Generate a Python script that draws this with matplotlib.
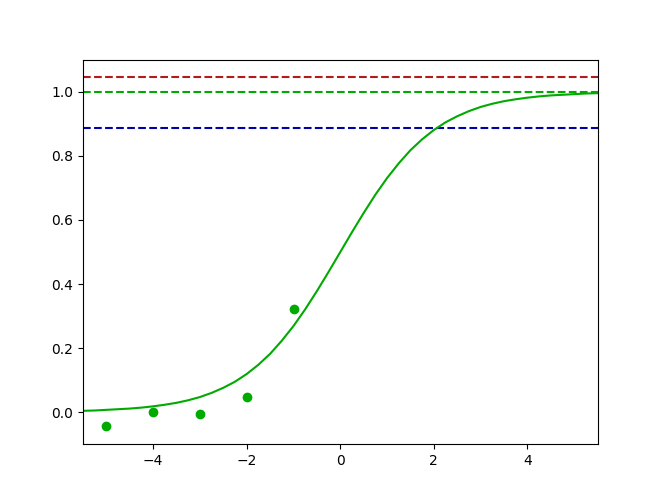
import matplotlib
matplotlib.use("Agg")
import matplotlib.pyplot as plt

# observed points
obs_x = [-5, -4, -3, -2, -1]
obs_y = [-0.044, 0.001, -0.006, 0.047, 0.322]

# fitted curve, values
curve_x = [-5.5, -5.25, -5.0, -4.75, -4.5, -4.25, -4.0, -3.75, -3.5, -3.25, -3.0,
           -2.75, -2.5, -2.25, -2.0, -1.75, -1.5, -1.25, -1.0, -0.75, -0.5, -0.25,
           0.0, 0.25, 0.5, 0.75, 1.0, 1.25, 1.5, 1.75, 2.0, 2.25, 2.5, 2.75,
           3.0, 3.25, 3.5, 3.75, 4.0, 4.25, 4.5, 4.75, 5.0, 5.25, 5.5]
curve_y = [0.004, 0.005, 0.007, 0.009, 0.011, 0.014, 0.018, 0.023, 0.029, 0.037, 0.047,
           0.060, 0.076, 0.095, 0.119, 0.148, 0.182, 0.223, 0.269, 0.321, 0.378, 0.438,
           0.500, 0.562, 0.622, 0.679, 0.731, 0.777, 0.818, 0.852, 0.881, 0.905, 0.924, 0.940,
           0.953, 0.963, 0.971, 0.977, 0.982, 0.986, 0.989, 0.991, 0.993, 0.995, 0.996]

# reference levels
levels = [1.047, 1.0, 0.8875]
level_colors = ["#b01c1c", "#00aa00", "#0000aa"]

fig = plt.figure(figsize=(6.64, 4.99), dpi=100)
ax = fig.add_subplot(111)

for lvl, c in zip(levels, level_colors):
    ax.axhline(lvl, color=c, linestyle="--")

ax.plot(curve_x, curve_y, color="#00aa00")
ax.scatter(obs_x, obs_y, color="#00aa00", zorder=3)

ax.set_xlim(-5.5, 5.5)
ax.set_ylim(-0.1, 1.1)

fig.savefig("out.png", dpi=100)
